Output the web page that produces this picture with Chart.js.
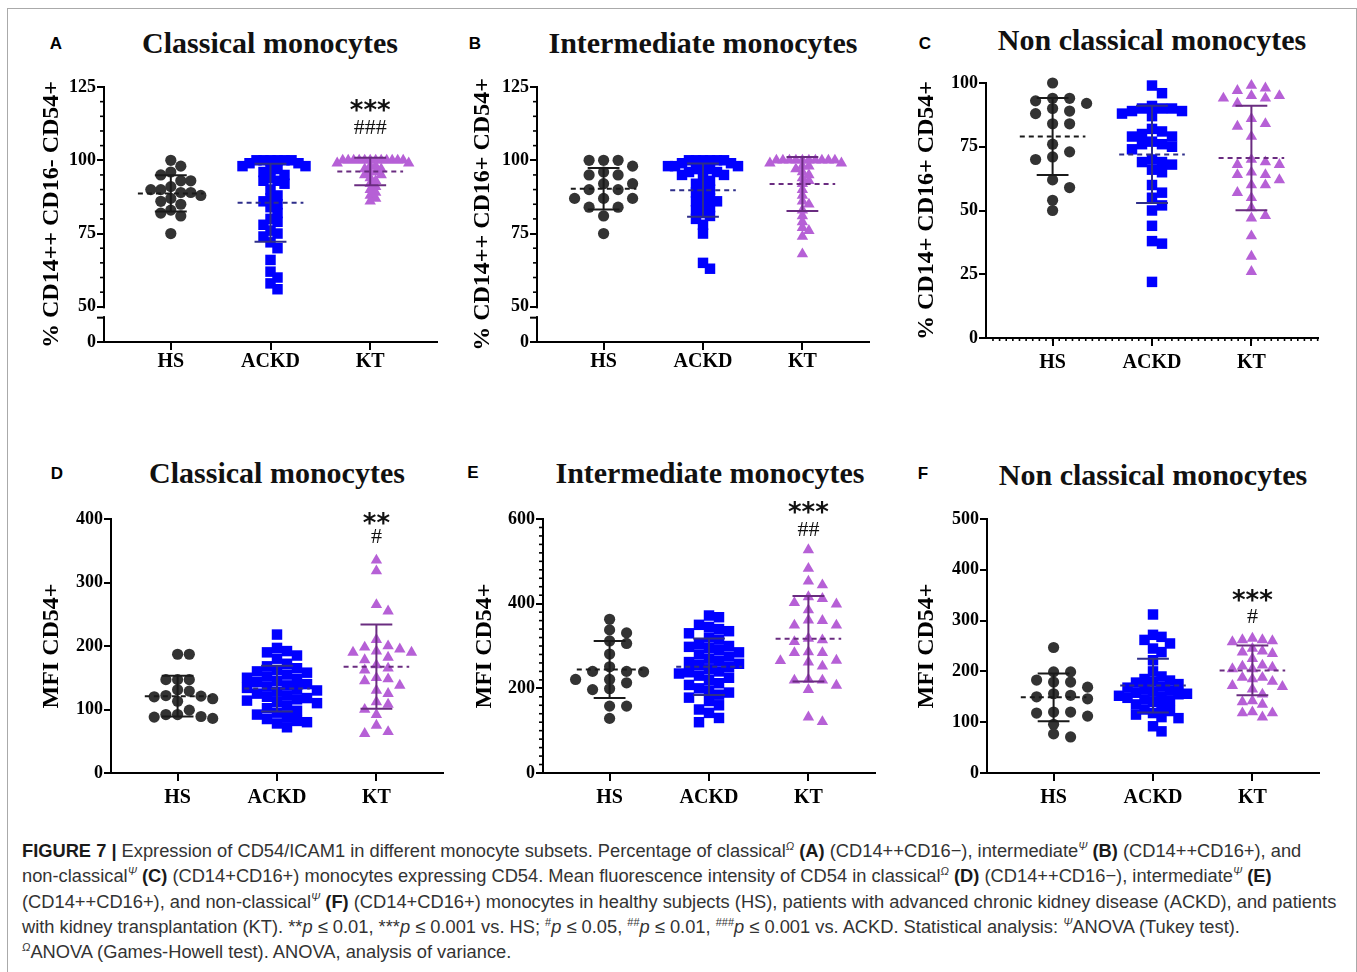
<!DOCTYPE html>
<html>
<head>
<meta charset="utf-8">
<script src="https://cdn.jsdelivr.net/npm/chart.js@4.4.1/dist/chart.umd.min.js"></script>
<style>
  html, body { margin: 0; padding: 0; background: #fff; }
  body { position: relative; width: 1357px; height: 972px; overflow: hidden; }
  #frame { position: absolute; left: 7px; top: 8px; width: 1350px; height: 1000px; border: 1px solid #aaa; box-sizing: border-box; }
  .title { position: absolute; font: bold 30px 'Liberation Serif', serif; color: #111; white-space: nowrap; transform: translate(-50%, -50%); }
  .letter { position: absolute; font: bold 17px 'Liberation Sans', Arial, sans-serif; color: #000; transform: translate(-50%, -50%); }
  #caption { position: absolute; left: 22px; top: 838px; font: 18.3px 'Liberation Sans', Arial, sans-serif; color: #333; line-height: 25.3px; white-space: nowrap; }
  #caption b { color: #1a1a1a; }
  #caption sup { font-size: 11px; line-height: 0; }
  canvas { position: absolute; }
</style>
</head>
<body>
<div id="frame"></div>

<div class="letter" style="left:56px;top:44px">A</div>
<div class="letter" style="left:475px;top:44px">B</div>
<div class="letter" style="left:925px;top:44px">C</div>
<div class="letter" style="left:57px;top:474px">D</div>
<div class="letter" style="left:473px;top:473px">E</div>
<div class="letter" style="left:923px;top:474px">F</div>

<div class="title" style="left:270px;top:43px">Classical monocytes</div>
<div class="title" style="left:703px;top:43px">Intermediate monocytes</div>
<div class="title" style="left:1152px;top:40px">Non classical monocytes</div>
<div class="title" style="left:277px;top:473px">Classical monocytes</div>
<div class="title" style="left:710px;top:473px">Intermediate monocytes</div>
<div class="title" style="left:1153px;top:475px">Non classical monocytes</div>

<div id="caption">
  <div><b>FIGURE 7 |</b> Expression of CD54/ICAM1 in different monocyte subsets. Percentage of classical<sup><i>Ω</i></sup> <b>(A)</b> (CD14++CD16−), intermediate<sup><i>Ψ</i></sup> <b>(B)</b> (CD14++CD16+), and</div>
  <div>non-classical<sup><i>Ψ</i></sup> <b>(C)</b> (CD14+CD16+) monocytes expressing CD54. Mean fluorescence intensity of CD54 in classical<sup><i>Ω</i></sup> <b>(D)</b> (CD14++CD16−), intermediate<sup><i>Ψ</i></sup> <b>(E)</b></div>
  <div>(CD14++CD16+), and non-classical<sup><i>Ψ</i></sup> <b>(F)</b> (CD14+CD16+) monocytes in healthy subjects (HS), patients with advanced chronic kidney disease (ACKD), and patients</div>
  <div>with kidney transplantation (KT). **<i>p</i> ≤ 0.01, ***<i>p</i> ≤ 0.001 vs. HS; <sup>#</sup><i>p</i> ≤ 0.05, <sup>##</sup><i>p</i> ≤ 0.01, <sup>###</sup><i>p</i> ≤ 0.001 vs. ACKD. Statistical analysis: <sup><i>Ψ</i></sup>ANOVA (Tukey test).</div>
  <div><sup><i>Ω</i></sup>ANOVA (Games-Howell test). ANOVA, analysis of variance.</div>
</div>

<script>
const groups = ['HS', 'ACKD', 'KT'];

// A: % CD14++ CD16- CD54+
const hsA = [100, 98, 96, 95, 93, 93, 91, 90, 90, 89, 89, 88, 87, 86, 85, 83, 82, 81, 75];
const ackdA = [100, 100, 100, 100, 100, 100, 99, 99, 98, 98, 97, 97, 96, 95, 94, 93, 93, 92, 90,
  88, 87, 86, 85, 84, 82, 80, 79, 78, 76, 75, 74, 72, 70, 66, 62, 60, 58, 56];
const ktA = [100, 100, 100, 100, 100, 100, 100, 100, 100, 100, 100, 100, 99, 99, 98, 98, 97, 97,
  96, 96, 95, 95, 94, 93, 92, 91, 90, 89, 88, 87, 86];
const meanA = [88.7, 85.5, 96.2];
const sdA = [6.2, 13.3, 4.7];
const yTicksA = [0, 50, 75, 100, 125];

// B: % CD14++ CD16+ CD54+
const hsB = [100, 100, 100, 98, 96, 95, 95, 92, 92, 90, 90, 87, 87, 87, 84, 84, 81, 75];
const ackdB = [100, 100, 100, 100, 100, 100, 99, 99, 98, 98, 98, 97, 97, 97, 96, 96, 95, 95, 94,
  93, 92, 91, 90, 89, 88, 87, 86, 86, 85, 84, 83, 82, 81, 80, 78, 75, 65, 63];
const ktB = [100, 100, 100, 100, 100, 100, 100, 100, 100, 100, 99, 99, 98, 98, 97, 96, 95, 94,
  93, 92, 90, 88, 86, 85, 83, 81, 79, 77, 76, 74, 68];
const meanB = [90.3, 89.8, 91.9];
const sdB = [7.1, 9.1, 9.2];
const yTicksB = [0, 50, 75, 100, 125];

// C: % CD14+ CD16+ CD54+
const hsC = [100, 94, 94, 93, 92, 90, 89, 88, 84, 84, 76, 73, 71, 70, 62, 59, 54, 50];
const ackdC = [99, 96, 91, 90, 90, 90, 89, 89, 88, 87, 82, 81, 80, 79, 79, 77, 76, 76, 75, 74,
  70, 69, 69, 68, 66, 65, 60, 57, 55, 52, 50, 44, 38, 37, 22];
const ktC = [99, 98, 97, 95, 95, 94, 94, 92, 86, 84, 83, 79, 70, 69, 68, 68, 65, 64, 64, 62,
  60, 60, 57, 55, 51, 48, 47, 40, 32, 26];
const meanC = [79, 72, 70.6];
const sdC = [15.1, 19.1, 20.5];
const yTicksC = [0, 25, 50, 75, 100];

// D: MFI CD54+ classical
const hsD = [187, 187, 147, 147, 147, 131, 129, 122, 121, 120, 117, 113, 99, 92, 92, 89, 88, 86];
const ackdD = [218, 197, 192, 190, 185, 180, 172, 168, 165, 162, 160, 158, 155, 152, 150, 148,
  145, 143, 140, 138, 136, 134, 132, 130, 128, 125, 122, 120, 118, 116, 114, 112, 110, 106, 102,
  98, 95, 92, 88, 85, 82, 80, 78, 72];
const ktD = [335, 318, 265, 255, 210, 200, 198, 195, 192, 190, 190, 182, 178, 170, 165, 162, 150,
  148, 145, 138, 130, 125, 112, 108, 100, 92, 75, 65, 62];
const meanD = [121, 133, 167.5];
const sdD = [32, 36, 66.5];
const yTicksD = [0, 100, 200, 300, 400];

// E: MFI CD54+ intermediate
const hsE = [363, 338, 331, 312, 306, 281, 251, 240, 240, 239, 221, 221, 213, 199, 197, 158, 158, 129];
const ackdE = [372, 368, 350, 345, 340, 335, 330, 320, 315, 305, 300, 298, 295, 290, 285, 280,
  275, 270, 265, 262, 258, 255, 250, 245, 240, 238, 235, 230, 225, 220, 212, 208, 200, 195, 190,
  185, 178, 170, 160, 150, 142, 130, 120];
const ktE = [527, 483, 453, 444, 416, 412, 402, 399, 385, 361, 360, 349, 349, 318, 314, 310, 286,
  284, 284, 266, 265, 262, 252, 221, 219, 219, 207, 197, 132, 121];
const meanE = [244.5, 251, 317];
const sdE = [67.5, 67, 101];
const yTicksE = [0, 200, 400, 600];

// F: MFI CD54+ non classical
const hsF = [247, 199, 199, 183, 179, 179, 169, 156, 153, 150, 146, 120, 120, 118, 112, 96, 77, 71];
const ackdF = [312, 272, 268, 262, 255, 245, 238, 222, 200, 190, 185, 182, 180, 178, 175, 170,
  168, 165, 162, 160, 158, 156, 155, 152, 150, 148, 145, 142, 140, 135, 130, 125, 122, 118, 115,
  110, 108, 92, 82];
const ktF = [265, 262, 262, 260, 258, 245, 240, 238, 235, 225, 212, 210, 208, 205, 205, 188, 188,
  185, 180, 172, 170, 165, 155, 142, 140, 135, 120, 118, 118, 110];
const meanF = [149, 172, 202];
const sdF = [47, 53, 49];
const yTicksF = [0, 100, 200, 300, 400, 500];

const dotColors = ['#333333', '#0000ff', '#b660d6'];
const barColors = ['#1a1a1a', '#2e2e8a', '#6a2c80'];
const shapes = ['circle', 'rect', 'triangle'];
const radii = [5.6, 7.4, 6.6];

const panels = [
  { box: [104, 87, 437, 342], yMin: 38, yMax: 125, yTicks: yTicksA, minor: 5, brk: 46.3,
    yTitle: '% CD14++ CD16- CD54+', yTitleX: 52, xPad: 0,
    series: [hsA, ackdA, ktA], mean: meanA, sd: sdA,
    gaps: [10, 7, 5.5], rows: [10, 6, 5],
    notes: [['***', 118.9], ['###', 111]] },
  { box: [537, 87, 869, 342], yMin: 38, yMax: 125, yTicks: yTicksB, minor: 5, brk: 46.3,
    yTitle: '% CD14++ CD16+ CD54+', yTitleX: 483, xPad: 0,
    series: [hsB, ackdB, ktB], mean: meanB, sd: sdB,
    gaps: [14.5, 7, 6.5], rows: [10, 6, 5], notes: [] },
  { box: [986, 83, 1318, 338], yMin: 0, yMax: 100, yTicks: yTicksC, xMinor: true,
    yTitle: '% CD14+ CD16+ CD54+', yTitleX: 927, xPad: 5,
    series: [hsC, ackdC, ktC], mean: meanC, sd: sdC,
    gaps: [17, 10, 14], rows: [9, 10, 10], notes: [] },
  { box: [111, 519, 443, 773], yMin: 0, yMax: 400, yTicks: yTicksD,
    yTitle: 'MFI CD54+', yTitleX: 52, xPad: 5,
    series: [hsD, ackdD, ktD], mean: meanD, sd: sdD,
    gaps: [11.7, 10, 11.7], rows: [10, 10, 10],
    notes: [['**', 401.6], ['#', 371.7]] },
  { box: [543, 519, 875, 773], yMin: 0, yMax: 600, yTicks: yTicksE, minor: 20,
    yTitle: 'MFI CD54+', yTitleX: 485, xPad: 5,
    series: [hsE, ackdE, ktE], mean: meanE, sd: sdE,
    gaps: [17, 10, 14], rows: [9, 10, 10],
    notes: [['***', 628], ['##', 574]] },
  { box: [987, 519, 1319, 773], yMin: 0, yMax: 500, yTicks: yTicksF,
    yTitle: 'MFI CD54+', yTitleX: 927, xPad: 5,
    series: [hsF, ackdF, ktF], mean: meanF, sd: sdF,
    gaps: [17, 8.5, 10], rows: [9, 10, 10],
    notes: [['***', 350], ['#', 307]] }
];

Chart.defaults.font.family = "'Liberation Serif', serif";
Chart.defaults.color = '#000';

// simple beeswarm: spread equal-ish values sideways so markers don't sit on each other
function swarm(vals, gap, rowH, pxY) {
  const idx = vals.map((v, i) => i).sort((a, b) => vals[b] - vals[a]);
  const placed = [], offs = [];
  idx.forEach(i => {
    const py = vals[i] * pxY;
    for (let k = 0; ; k++) {
      const dx = Math.ceil(k / 2) * (k % 2 ? 1 : -1) * gap / 2;
      if (placed.every(q => Math.abs(q.py - py) >= rowH || Math.abs(q.dx - dx) >= gap - 0.01)) {
        placed.push({ dx, py });
        offs[i] = dx;
        break;
      }
    }
  });
  return offs;
}

function line(ctx, x1, y1, x2, y2) {
  ctx.beginPath();
  ctx.moveTo(x1, y1);
  ctx.lineTo(x2, y2);
  ctx.stroke();
}

function makePanel(p) {
  const [L, T, R, B] = p.box;
  const cx = L - 92, cy = T - 32, cw = R + 16 - cx, ch = B + 46 - cy;
  const xMin = -0.67, xMax = 2.67;
  const pxX = (R - L) / (xMax - xMin);
  const pxY = (B - T) / (p.yMax - p.yMin);

  const canvas = document.createElement('canvas');
  canvas.width = cw;
  canvas.height = ch;
  canvas.style.left = cx + 'px';
  canvas.style.top = cy + 'px';
  document.body.appendChild(canvas);

  const datasets = [];
  p.series.forEach((vals, g) => {
    const offs = swarm(vals, p.gaps[g], p.rows[g], pxY);
    datasets.push({
      data: vals.map((v, i) => ({ x: g + offs[i] / pxX, y: v })),
      pointStyle: shapes[g], pointRadius: radii[g],
      backgroundColor: dotColors[g], borderWidth: 0, order: 2, clip: false
    });
    const m = p.mean[g], s = p.sd[g];
    datasets.push({
      data: [{ x: g - 0.33, y: m }, { x: g + 0.33, y: m }],
      showLine: true, borderColor: barColors[g], borderWidth: 2, borderDash: [5, 4],
      pointRadius: 0, order: 1, clip: false
    });
    datasets.push({
      data: [{ x: g - 0.16, y: m + s }, { x: g + 0.16, y: m + s }, { x: g, y: m + s },
             { x: g, y: m - s }, { x: g - 0.16, y: m - s }, { x: g + 0.16, y: m - s }],
      showLine: true, borderColor: barColors[g], borderWidth: 2,
      pointRadius: 0, order: 1, clip: false
    });
  });

  const extras = {
    id: 'extras',
    afterDraw(chart) {
      const { ctx, chartArea, scales: { x, y } } = chart;
      const left = chartArea.left;
      ctx.save();
      ctx.strokeStyle = '#000';
      ctx.lineWidth = 1.6;
      if (p.minor) {
        const from = p.brk ? 50 : 0;
        for (let v = from; v <= p.yMax; v += p.minor) {
          if (p.yTicks.includes(v)) continue;
          const py = y.getPixelForValue(v);
          line(ctx, left - 4, py, left, py);
        }
      }
      if (p.xMinor) {
        for (let v = -0.6; v < xMax; v += 1 / 15) {
          const px = x.getPixelForValue(v);
          if (px <= left + 2) continue;
          line(ctx, px, chartArea.bottom, px, chartArea.bottom + 3);
        }
      }
      if (p.brk) {
        const y1 = y.getPixelForValue(50), y2 = y.getPixelForValue(p.brk);
        ctx.fillStyle = '#fff';
        ctx.fillRect(left - 3, y1 + 1.5, 6, y2 - y1 - 3);
        ctx.lineWidth = 2;
        line(ctx, left - 7, y2, left + 1, y2);
      }
      ctx.fillStyle = '#111';
      ctx.textAlign = 'center';
      p.notes.forEach(([txt, v]) => {
        const px = x.getPixelForValue(2), py = y.getPixelForValue(v);
        if (txt[0] === '*') {
          ctx.font = "bold 26px 'DejaVu Sans'";
          ctx.textBaseline = 'alphabetic';
          ctx.fillText(txt, px, py + 14);
        } else {
          ctx.font = "22px 'Liberation Serif'";
          ctx.textBaseline = 'middle';
          ctx.fillText(txt, px, py);
        }
      });
      ctx.restore();
    }
  };

  const tickFont = { family: "'Liberation Serif', serif", size: 18, weight: 'bold' };
  new Chart(canvas, {
    type: 'scatter',
    data: { datasets },
    options: {
      responsive: false,
      animation: false,
      events: [],
      layout: { padding: { top: T - cy, right: cx + cw - R, left: 0, bottom: 0 } },
      plugins: { legend: { display: false }, tooltip: { enabled: false } },
      scales: {
        x: {
          type: 'linear', min: xMin, max: xMax,
          afterBuildTicks: s => { s.ticks = [0, 1, 2].map(v => ({ value: v })); },
          afterFit: s => { s.height = cy + ch - B; },
          ticks: { callback: v => groups[v], font: { ...tickFont, size: 20 }, padding: p.xPad, maxRotation: 0, autoSkip: false },
          grid: { drawOnChartArea: false, tickLength: 8, lineWidth: 2, color: '#000' },
          border: { color: '#000', width: 2 }
        },
        y: {
          type: 'linear', min: p.yMin, max: p.yMax,
          afterBuildTicks: s => { s.ticks = p.yTicks.map(v => ({ value: Math.max(v, p.yMin) })); },
          afterFit: s => { s.width = L - cx; },
          ticks: { callback: v => (v === p.yMin ? '0' : v), font: tickFont, padding: 1, autoSkip: false },
          grid: { drawOnChartArea: false, tickLength: 7, lineWidth: 2, color: '#000' },
          border: { color: '#000', width: 2 },
          title: {
            display: true, text: p.yTitle,
            font: { family: "'Liberation Serif', serif", size: 24, weight: 'bold' },
            padding: { top: p.yTitleX - cx - 14.4, bottom: 0 }
          }
        }
      }
    },
    plugins: [extras]
  });
}

panels.forEach(makePanel);
</script>
</body>
</html>
